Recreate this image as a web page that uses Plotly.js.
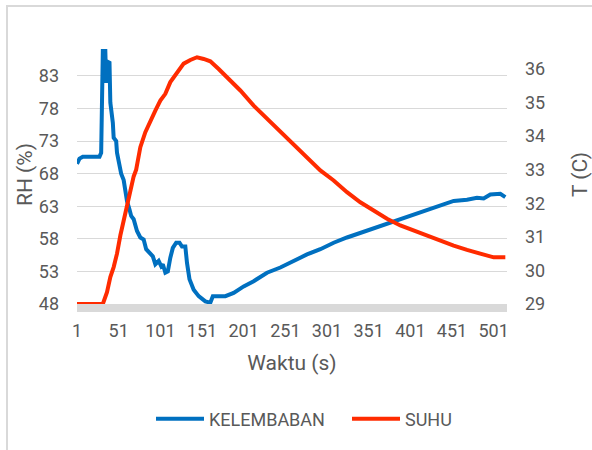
<!DOCTYPE html>
<html>
<head>
<meta charset="utf-8">
<script src="https://cdn.plot.ly/plotly-3.0.1.min.js"></script>
<style>html,body{margin:0;padding:0;background:#fff;}#chart{width:592px;height:450px;}</style>
</head>
<body>
<div id="chart"></div>
<script>
// ---- data ----
const rhTime = [1, 4, 8, 16, 28, 30, 31, 32, 35, 36, 37, 40, 41, 44, 45, 48, 49, 52, 54, 57, 59, 61, 64, 66, 69, 73, 77, 81, 84, 89, 92, 95, 99, 102, 104, 107, 110, 113, 116, 120, 124, 127, 131, 133, 136, 141, 147, 155, 161, 164, 169, 179, 189, 201, 213, 229, 245, 261, 277, 293, 309, 325, 341, 357, 373, 389, 405, 421, 437, 453, 469, 481, 489, 497, 509, 515];
const rhValues = [69.5, 70.3, 70.6, 70.6, 70.6, 71.2, 80.9, 86.8, 86.8, 81.9, 85.2, 85.0, 78.9, 75.8, 73.5, 73.0, 71.2, 69.1, 68.0, 67.0, 65.5, 63.8, 62.5, 61.5, 61.0, 59.2, 58.2, 57.9, 56.4, 55.6, 55.3, 54.1, 54.6, 53.8, 54.1, 52.8, 53.0, 55.1, 56.6, 57.4, 57.4, 56.8, 56.8, 54.3, 51.8, 50.2, 49.2, 48.4, 48.2, 49.2, 49.2, 49.2, 49.7, 50.7, 51.5, 52.8, 53.6, 54.6, 55.6, 56.4, 57.4, 58.2, 58.9, 59.5, 60.2, 61.0, 61.7, 62.3, 63.0, 63.8, 64.0, 64.3, 64.2, 64.8, 64.9, 64.4];

const tTime = [1, 32, 37, 41, 45, 49, 53, 57, 61, 65, 69, 72, 77, 83, 89, 95, 101, 107, 113, 121, 129, 137, 145, 153, 161, 171, 181, 197, 213, 229, 245, 261, 277, 293, 309, 325, 341, 357, 373, 389, 405, 421, 437, 453, 469, 485, 501, 515];
const tValues = [29.0, 29.0, 29.35, 29.8, 30.1, 30.5, 31.04, 31.49, 31.98, 32.33, 32.8, 33.0, 33.67, 34.12, 34.47, 34.76, 35.06, 35.26, 35.61, 35.9, 36.16, 36.27, 36.35, 36.3, 36.23, 36.0, 35.76, 35.36, 34.91, 34.52, 34.12, 33.72, 33.33, 32.98, 32.68, 32.33, 32.03, 31.79, 31.54, 31.34, 31.19, 31.01, 30.89, 30.74, 30.61, 30.51, 30.39, 30.39];

const xTickVals = [1, 51, 101, 151, 201, 251, 301, 351, 401, 451, 501];
const rhTickVals = [48, 53, 58, 63, 68, 73, 78, 83];
const tTickVals = [29, 30, 31, 32, 33, 34, 35, 36];

const seriesNames = ['KELEMBABAN', 'SUHU'];
const xTitle = 'Waktu (s)';
const yTitle = 'RH (%)';
const y2Title = 'T (C)';

// ---- layout helpers ----
const W = 592, H = 450;
const M = {l: 77, r: 85, t: 45, b: 146};
const pw = W - M.l - M.r, ph = H - M.t - M.b;
const px = x => (x - M.l) / pw;
const py = y => (H - M.b - y) / ph;

const FONT = 'Roboto, "Open Sans", sans-serif';
const GREY = '#595959';

const traces = [
  {x: rhTime, y: rhValues, name: seriesNames[0], type: 'scatter', mode: 'lines',
   line: {color: '#0070C0', width: 4}, yaxis: 'y'},
  {x: tTime, y: tValues, name: seriesNames[1], type: 'scatter', mode: 'lines',
   line: {color: '#FF2B00', width: 4}, yaxis: 'y2'}
];

const layout = {
  width: W, height: H,
  margin: M,
  paper_bgcolor: '#fff', plot_bgcolor: '#fff',
  font: {family: FONT, color: GREY, size: 18},
  showlegend: true,
  legend: {orientation: 'h', x: px(151), xanchor: 'left', y: py(419), yanchor: 'middle',
           font: {family: FONT, color: GREY, size: 18}, entrywidth: 133, itemwidth: 48,
           bgcolor: 'rgba(0,0,0,0)'},
  xaxis: {range: [1, 517], tickmode: 'array', tickvals: xTickVals, ticktext: xTickVals.map(String),
          showgrid: false, zeroline: false, showline: true, linecolor: '#d9d9d9', linewidth: 8,
          layer: 'below traces', ticks: '', ticklabelstandoff: 3,
          tickfont: {family: FONT, color: GREY, size: 18},
          title: {text: xTitle, font: {family: FONT, color: GREY, size: 21}, standoff: 19}},
  yaxis: {range: [48, 48 + ph / 6.52], tickmode: 'array', tickvals: rhTickVals,
          showgrid: true, gridcolor: '#d9d9d9', gridwidth: 1, zeroline: false, showline: false,
          ticks: '', ticklabelstandoff: 17, layer: 'below traces',
          tickfont: {family: FONT, color: GREY, size: 18},
          title: {text: yTitle, font: {family: FONT, color: GREY, size: 21}, standoff: 0}},
  yaxis2: {range: [29, 29 + ph / 33.57], tickmode: 'array', tickvals: tTickVals,
           overlaying: 'y', side: 'right', showgrid: false, zeroline: false, showline: false,
           ticks: '', ticklabelstandoff: 17,
           tickfont: {family: FONT, color: GREY, size: 18},
           title: {text: y2Title, font: {family: FONT, color: GREY, size: 21}, standoff: 28}},
  shapes: [
    {type: 'line', xref: 'paper', yref: 'paper', x0: px(7), x1: px(7), y0: py(6), y1: py(452),
     line: {color: '#d9d9d9', width: 2}},
    {type: 'line', xref: 'paper', yref: 'paper', x0: px(6), x1: px(594), y0: py(6), y1: py(6),
     line: {color: '#d9d9d9', width: 2}}
  ]
};

Plotly.newPlot('chart', traces, layout, {displayModeBar: false, staticPlot: true});
</script>
</body>
</html>
